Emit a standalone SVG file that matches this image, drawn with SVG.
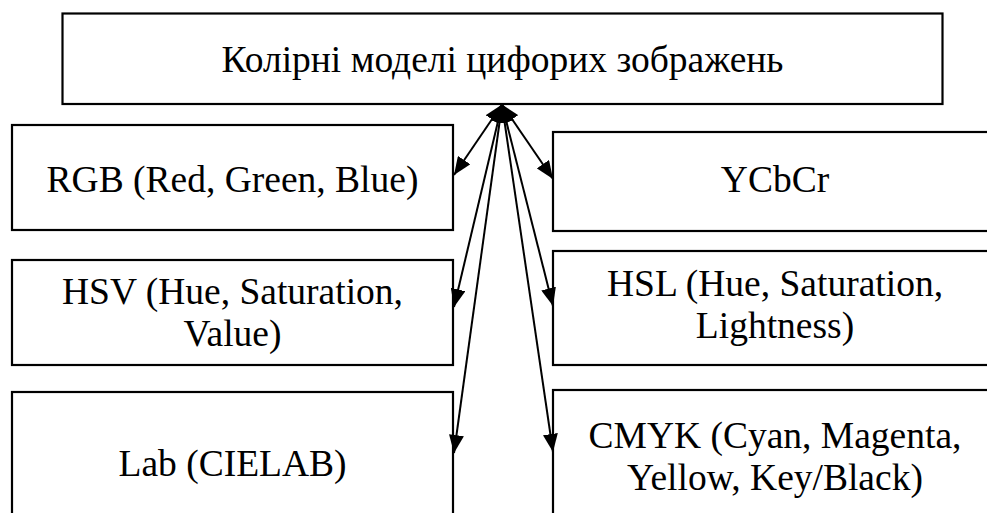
<svg xmlns="http://www.w3.org/2000/svg" width="987" height="513" viewBox="0 0 987 513">
<style>
.box{fill:#fff;stroke:#000;stroke-width:2.2}
.t{font-family:"Liberation Serif","Times New Roman",serif;font-size:37.5px;fill:#000;text-anchor:middle}
.c{stroke:#000;stroke-width:2;fill:none;marker-start:url(#ah);marker-end:url(#ah)}
</style>
<defs>
<marker id="ah" markerUnits="userSpaceOnUse" markerWidth="19" markerHeight="15" refX="18" refY="7.5" orient="auto-start-reverse" viewBox="0 0 19 15">
<path d="M0,0 L18,7.5 L0,15 z" fill="#000"/>
</marker>
</defs>
<rect width="987" height="513" fill="#fff"/>
<g id="top">
<rect class="box" x="62.5" y="13.5" width="880" height="90.5"/>
<text class="t" x="502.5" y="72">Колірні моделі цифорих зображень</text>
</g>
<g id="rgb">
<rect class="box" x="12" y="125" width="441" height="105"/>
<text class="t" x="232.5" y="192">RGB (Red, Green, Blue)</text>
</g>
<g id="ycbcr">
<rect class="box" x="553" y="132" width="450" height="99"/>
<text class="t" x="775" y="192">YCbCr</text>
</g>
<g id="hsv">
<rect class="box" x="12" y="260" width="441" height="105"/>
<text class="t" x="232.5" y="304">HSV (Hue, Saturation,</text>
<text class="t" x="232.5" y="346">Value)</text>
</g>
<g id="hsl">
<rect class="box" x="553" y="251" width="450" height="114"/>
<text class="t" x="775" y="296">HSL (Hue, Saturation,</text>
<text class="t" x="775" y="338">Lightness)</text>
</g>
<g id="lab">
<rect class="box" x="12" y="392" width="441" height="140"/>
<text class="t" x="232.5" y="476">Lab (CIELAB)</text>
</g>
<g id="cmyk">
<rect class="box" x="553" y="390" width="450" height="140"/>
<text class="t" x="775" y="448">CMYK (Cyan, Magenta,</text>
<text class="t" x="775" y="490">Yellow, Key/Black)</text>
</g>
<g id="connectors">
<line class="c" x1="502" y1="104.5" x2="454" y2="175"/>
<line class="c" x1="502" y1="104.5" x2="553" y2="179"/>
<line class="c" x1="502" y1="104.5" x2="454" y2="307"/>
<line class="c" x1="502" y1="104.5" x2="553" y2="306"/>
<line class="c" x1="502" y1="104.5" x2="454" y2="453"/>
<line class="c" x1="502" y1="104.5" x2="553" y2="452"/>
</g>
</svg>
